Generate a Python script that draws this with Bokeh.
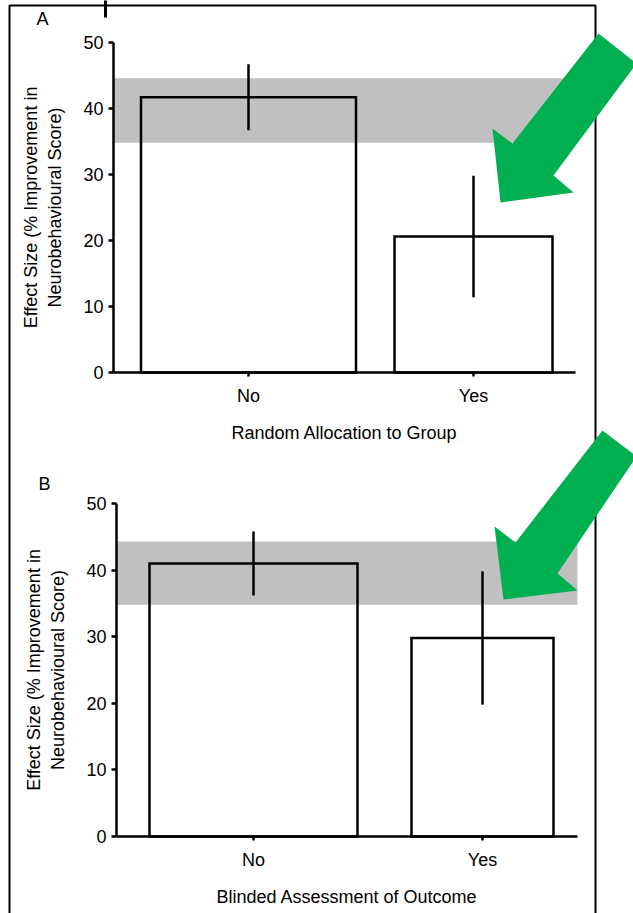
from bokeh.plotting import figure
from bokeh.models import (Range1d, FixedTicker, BoxAnnotation, PolyAnnotation, Label,
                          LinearAxis)
from bokeh.embed import file_html
from bokeh.resources import INLINE

# ---------------- data ----------------
categories = ["No", "Yes"]
a_effect = [41.7, 20.6]
a_error = [5.0, 9.2]
b_effect = [41.0, 29.8]
b_error = [4.8, 10.0]
a_band = [34.8, 44.6]
b_band = [34.8, 44.3]
y_ticks = [0, 10, 20, 30, 40, 50]
a_xlabel = "Random Allocation to Group"
b_xlabel = "Blinded Assessment of Outcome"
y_label = "Effect Size (% Improvement in\nNeurobehavioural Score)"
panel_letters = ["A", "B"]

# ---------------- style / layout (page pixels) ----------------
FONT = "Liberation Sans"
W, H = 633, 913
GREEN = "#00B050"
BAND = "#C0C0C0"
LW = 2.5
Y_MAX = 50

# panel geometry: axis x, axis end x, first/second category x, y of 0, y of Y_MAX
GEOM_A = dict(ax=113, end=575, c0=248, c1=473, y0=372, ytop=42)
GEOM_B = dict(ax=116, end=577, c0=253, c1=482, y0=836, ytop=503)
BARW_A = [215, 158]   # bar widths in px
BARW_B = [208, 142]

# arrow outlines (canvas px)
ARROW_A = ([598, 636, 553, 573, 500, 492, 512], [33, 63, 175, 192, 202, 128, 143])
ARROW_B = ([602, 636, 557, 577, 503, 494, 515], [430, 456, 573, 590, 599, 526, 542])


def ranges(g):
    ux = g["c1"] - g["c0"]
    uy = (g["y0"] - g["ytop"]) / Y_MAX
    xr = Range1d((0 - g["c0"]) / ux, (W - g["c0"]) / ux)
    yr = Range1d((g["y0"] - H) / uy, g["y0"] / uy)
    x_axis = (g["ax"] - g["c0"]) / ux
    x_end = (g["end"] - g["c0"]) / ux
    return xr, yr, x_axis, x_end, ux


xrA, yrA, axA, endA, uxA = ranges(GEOM_A)
xrB, yrB, axB, endB, uxB = ranges(GEOM_B)

p = figure(width=W, height=H, x_range=xrA, y_range=yrA,
           x_axis_location=None, y_axis_location=None,
           output_backend="svg", toolbar_location=None, title=None,
           min_border=0, min_border_left=0, min_border_right=0,
           min_border_top=0, min_border_bottom=0)
p.extra_x_ranges = {"bx": xrB}
p.extra_y_ranges = {"by": yrB}
p.outline_line_color = None
p.grid.visible = False
p.background_fill_color = "white"
p.border_fill_color = "white"

xs = list(range(len(categories)))


def style_axis(ax):
    ax.axis_line_width = LW
    ax.axis_line_color = "black"
    ax.major_tick_line_width = LW
    ax.major_tick_line_color = "black"
    ax.major_tick_in = 0
    ax.minor_tick_line_color = None
    ax.major_label_text_font = FONT
    ax.major_label_text_font_size = "18px"
    ax.major_label_text_color = "black"
    ax.axis_label_text_font = FONT
    ax.axis_label_text_font_size = "18px"
    ax.axis_label_text_font_style = "normal"
    ax.axis_label_text_color = "black"


def draw_panel(effect, error, band, xlabel, x_axis, x_end, ux, barw, xname, yname):
    kw = {}
    if xname:
        kw = dict(x_range_name=xname, y_range_name=yname)
    lower = [e - s for e, s in zip(effect, error)]
    upper = [e + s for e, s in zip(effect, error)]

    p.add_layout(BoxAnnotation(left=x_axis, right=x_end, bottom=band[0], top=band[1],
                               fill_color=BAND, fill_alpha=1, line_color=None,
                               level="underlay", **kw))
    p.vbar(x=xs, top=effect, bottom=0, width=[w / ux for w in barw], fill_color=None,
           line_color="black", line_width=LW, line_join="miter", **kw)
    p.segment(x0=xs, y0=lower, x1=xs, y1=upper, line_color="black", line_width=LW, **kw)

    yax = LinearAxis(fixed_location=x_axis, bounds=(0, Y_MAX),
                     ticker=FixedTicker(ticks=y_ticks), axis_label=y_label, **kw)
    style_axis(yax)
    yax.major_tick_out = 5
    yax.major_label_standoff = 5
    yax.axis_label_standoff = 15
    p.add_layout(yax, "left")

    xax = LinearAxis(fixed_location=0, bounds=(x_axis, x_end),
                     ticker=FixedTicker(ticks=xs), axis_label=xlabel, **kw)
    style_axis(xax)
    xax.major_label_overrides = {i: c for i, c in enumerate(categories)}
    xax.major_tick_out = 4
    xax.major_label_standoff = 9
    xax.axis_label_standoff = 14
    p.add_layout(xax, "below")


draw_panel(a_effect, a_error, a_band, a_xlabel, axA, endA, uxA, BARW_A, None, None)
draw_panel(b_effect, b_error, b_band, b_xlabel, axB, endB, uxB, BARW_B, "bx", "by")

# panel letters
for letter, (lx, ly) in zip(panel_letters, [(42, 18), (44, 483)]):
    p.add_layout(Label(x=lx, y=ly, x_units="canvas", y_units="canvas",
                       text=letter, text_font=FONT, text_font_size="18px",
                       text_align="center", text_baseline="middle", text_color="black"))

# outer frame box of the original figure
p.add_layout(PolyAnnotation(xs=[9, 9, 595, 595], ys=[H + 50, 5, 5, H + 50],
                            xs_units="canvas", ys_units="canvas",
                            fill_alpha=0, line_color="black", line_alpha=1,
                            line_width=2, level="overlay"))
# small cropped mark at top edge
p.add_layout(PolyAnnotation(xs=[103.5, 106.5, 106.5, 103.5], ys=[-5, -5, 17, 17],
                            xs_units="canvas", ys_units="canvas",
                            fill_color="black", fill_alpha=1, line_color=None, level="overlay"))
# green arrows
for axs, ays in (ARROW_A, ARROW_B):
    p.add_layout(PolyAnnotation(xs=axs, ys=ays, xs_units="canvas", ys_units="canvas",
                                fill_color=GREEN, fill_alpha=1, line_color=None, level="overlay"))

open("out.html", "w").write(file_html(p, INLINE))
